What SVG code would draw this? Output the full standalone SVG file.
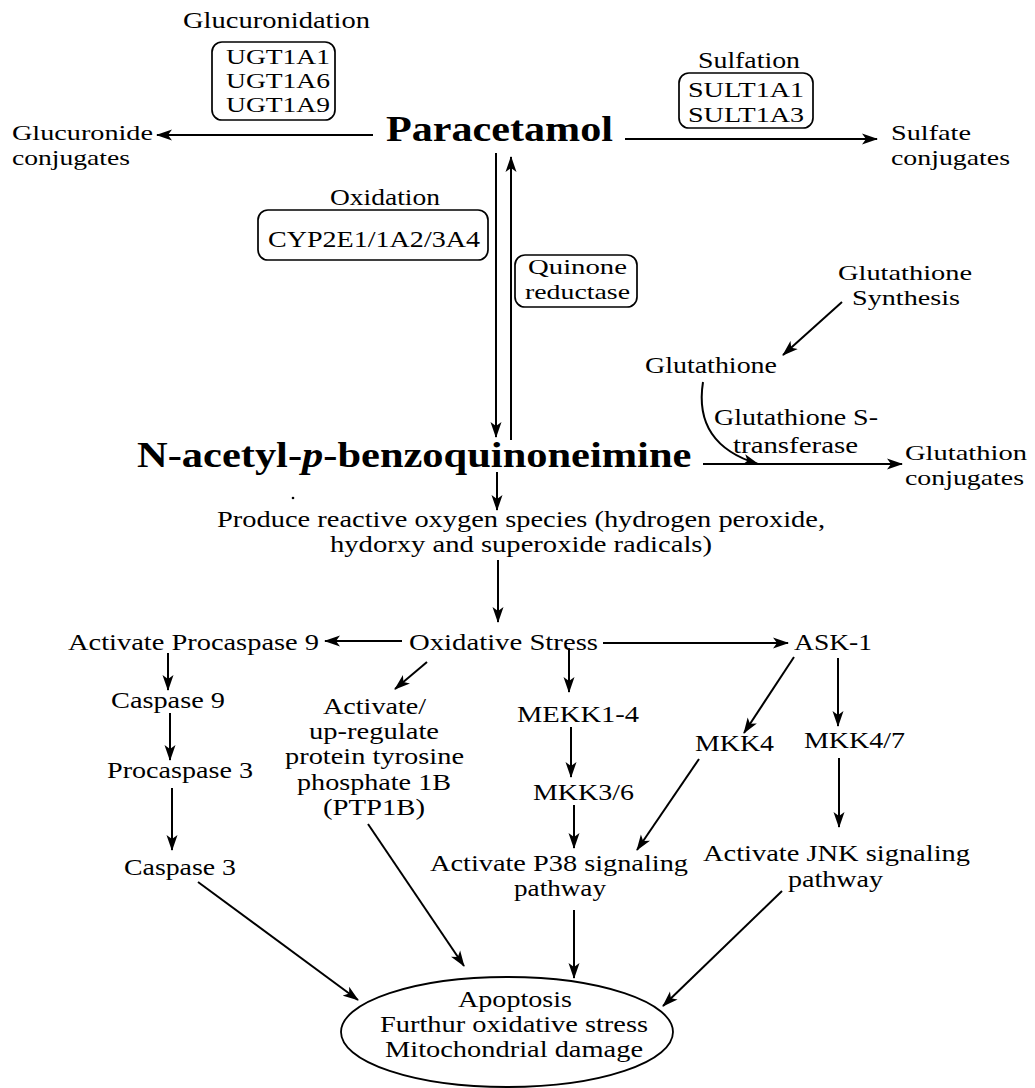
<svg xmlns="http://www.w3.org/2000/svg" width="1035" height="1088" viewBox="0 0 1035 1088">
<defs>
<style>
text{font-family:"Liberation Serif","Times New Roman",Times,serif;font-size:24px;fill:#000}
.s{font-size:22px}
.b{font-weight:bold;font-size:36px}
.box{fill:none;stroke:#000;stroke-width:1.7}
.c line,.c path{stroke:#000;stroke-width:2;fill:none}
.a{marker-end:url(#ah)}
</style>
<marker id="ah" markerUnits="userSpaceOnUse" markerWidth="17" markerHeight="12" refX="15" refY="5.5" orient="auto" viewBox="0 0 17 11">
<path d="M0,0 L16,5.5 L0,11 L4,5.5 Z" fill="#000"/>
</marker>
</defs>
<rect width="1035" height="1088" fill="#fff"/>

<g id="connectors" class="c">
<line class="a" x1="373" y1="135" x2="157" y2="135"/>
<line class="a" x1="625" y1="139" x2="877" y2="139"/>
<line class="a" x1="496" y1="153" x2="496" y2="437"/>
<line class="a" x1="511" y1="440" x2="511" y2="157"/>
<line class="a" x1="842" y1="302" x2="783" y2="355"/>
<path class="a" d="M703,382 C697,420 712,450 758,464"/>
<line class="a" x1="703" y1="464" x2="902" y2="464"/>
<line class="a" x1="497" y1="472" x2="497" y2="510"/>
<line class="a" x1="498" y1="560" x2="498" y2="622"/>
<line class="a" x1="402" y1="641" x2="325" y2="641"/>
<line class="a" x1="603" y1="643" x2="788" y2="643"/>
<line class="a" x1="427" y1="662" x2="395" y2="689"/>
<line class="a" x1="569" y1="648" x2="569" y2="692"/>
<line class="a" x1="168" y1="653" x2="168" y2="690"/>
<line class="a" x1="170" y1="713" x2="170" y2="760"/>
<line class="a" x1="172" y1="788" x2="172" y2="850"/>
<line class="a" x1="571" y1="727" x2="571" y2="777"/>
<line class="a" x1="574" y1="805" x2="574" y2="848"/>
<line class="a" x1="794" y1="657" x2="744" y2="733"/>
<line class="a" x1="838" y1="658" x2="838" y2="726"/>
<line class="a" x1="699" y1="759" x2="637" y2="850"/>
<line class="a" x1="839" y1="758" x2="839" y2="827"/>
<line class="a" x1="198" y1="882" x2="358" y2="1000"/>
<line class="a" x1="368" y1="824" x2="464" y2="966"/>
<line class="a" x1="574" y1="910" x2="574" y2="978"/>
<line class="a" x1="782" y1="891" x2="663" y2="1006"/>
</g>

<g id="glucuronidation">
<text x="183" y="28" textLength="187" lengthAdjust="spacingAndGlyphs">Glucuronidation</text>
<rect class="box" x="212" y="42" width="123" height="78" rx="10"/>
<text class="s" x="226" y="64" textLength="104" lengthAdjust="spacingAndGlyphs">UGT1A1</text>
<text class="s" x="226" y="88" textLength="104" lengthAdjust="spacingAndGlyphs">UGT1A6</text>
<text class="s" x="226" y="112" textLength="104" lengthAdjust="spacingAndGlyphs">UGT1A9</text>
</g>
<g id="glucuronide">
<text class="s" x="12" y="140" textLength="141" lengthAdjust="spacingAndGlyphs">Glucuronide</text>
<text class="s" x="12" y="165" textLength="118" lengthAdjust="spacingAndGlyphs">conjugates</text>
</g>
<g id="paracetamol">
<text class="b" x="386" y="141" textLength="227" lengthAdjust="spacingAndGlyphs">Paracetamol</text>
</g>
<g id="sulfation">
<text x="698" y="68" textLength="102" lengthAdjust="spacingAndGlyphs">Sulfation</text>
<rect class="box" x="679" y="73" width="134" height="55" rx="10"/>
<text class="s" x="688" y="97" textLength="116" lengthAdjust="spacingAndGlyphs">SULT1A1</text>
<text class="s" x="688" y="122" textLength="116" lengthAdjust="spacingAndGlyphs">SULT1A3</text>
</g>
<g id="sulfate">
<text class="s" x="891" y="140" textLength="80" lengthAdjust="spacingAndGlyphs">Sulfate</text>
<text class="s" x="891" y="165" textLength="119" lengthAdjust="spacingAndGlyphs">conjugates</text>
</g>
<g id="oxidation">
<text x="330" y="205" textLength="110" lengthAdjust="spacingAndGlyphs">Oxidation</text>
<rect class="box" x="258" y="210" width="230" height="50" rx="10"/>
<text x="268" y="247" textLength="212" lengthAdjust="spacingAndGlyphs">CYP2E1/1A2/3A4</text>
</g>
<g id="quinone">
<rect class="box" x="515" y="255" width="122" height="52" rx="10"/>
<text class="s" x="528" y="274" textLength="99" lengthAdjust="spacingAndGlyphs">Quinone</text>
<text class="s" x="525" y="299" textLength="105" lengthAdjust="spacingAndGlyphs">reductase</text>
</g>
<g id="gsynth">
<text class="s" x="838" y="280" textLength="134" lengthAdjust="spacingAndGlyphs">Glutathione</text>
<text class="s" x="852" y="305" textLength="108" lengthAdjust="spacingAndGlyphs">Synthesis</text>
</g>
<g id="glutathione">
<text x="645" y="373" textLength="132" lengthAdjust="spacingAndGlyphs">Glutathione</text>
</g>
<g id="gst">
<text x="714" y="425" textLength="164" lengthAdjust="spacingAndGlyphs">Glutathione S-</text>
<text x="733" y="453" textLength="125" lengthAdjust="spacingAndGlyphs">transferase</text>
</g>
<g id="napqi">
<text class="b" transform="matrix(1.18,0,0,1,137,467)" x="0" y="0">N-acetyl-<tspan font-style="italic">p</tspan>-benzoquinoneimine</text>
<circle cx="293" cy="498" r="1.3" fill="#000"/>
</g>
<g id="gconj">
<text class="s" x="905" y="460" textLength="122" lengthAdjust="spacingAndGlyphs">Glutathion</text>
<text class="s" x="905" y="485" textLength="119" lengthAdjust="spacingAndGlyphs">conjugates</text>
</g>
<g id="ros">
<text x="217" y="527" textLength="608" lengthAdjust="spacingAndGlyphs">Produce reactive oxygen species (hydrogen peroxide,</text>
<text x="330" y="552" textLength="382" lengthAdjust="spacingAndGlyphs">hydorxy and superoxide radicals)</text>
</g>
<g id="procaspase9"><text x="68" y="650" textLength="251" lengthAdjust="spacingAndGlyphs">Activate Procaspase 9</text></g>
<g id="oxstress"><text x="409" y="650" textLength="189" lengthAdjust="spacingAndGlyphs">Oxidative Stress</text></g>
<g id="ask1"><text x="794" y="650" textLength="78" lengthAdjust="spacingAndGlyphs">ASK-1</text></g>
<g id="caspase9"><text x="111" y="708" textLength="114" lengthAdjust="spacingAndGlyphs">Caspase 9</text></g>
<g id="procaspase3"><text x="107" y="778" textLength="146" lengthAdjust="spacingAndGlyphs">Procaspase 3</text></g>
<g id="caspase3"><text x="124" y="875" textLength="112" lengthAdjust="spacingAndGlyphs">Caspase 3</text></g>
<g id="ptp1b">
<text x="323" y="714" textLength="103" lengthAdjust="spacingAndGlyphs">Activate/</text>
<text x="309" y="739" textLength="130" lengthAdjust="spacingAndGlyphs">up-regulate</text>
<text x="285" y="764" textLength="179" lengthAdjust="spacingAndGlyphs">protein tyrosine</text>
<text x="297" y="790" textLength="154" lengthAdjust="spacingAndGlyphs">phosphate 1B</text>
<text x="323" y="815" textLength="102" lengthAdjust="spacingAndGlyphs">(PTP1B)</text>
</g>
<g id="mekk"><text x="517" y="722" textLength="122" lengthAdjust="spacingAndGlyphs">MEKK1-4</text></g>
<g id="mkk36"><text x="533" y="800" textLength="101" lengthAdjust="spacingAndGlyphs">MKK3/6</text></g>
<g id="mkk4"><text x="695" y="751" textLength="79" lengthAdjust="spacingAndGlyphs">MKK4</text></g>
<g id="mkk47"><text x="804" y="748" textLength="101" lengthAdjust="spacingAndGlyphs">MKK4/7</text></g>
<g id="p38">
<text x="430" y="871" textLength="258" lengthAdjust="spacingAndGlyphs">Activate P38 signaling</text>
<text x="514" y="896" textLength="92" lengthAdjust="spacingAndGlyphs">pathway</text>
</g>
<g id="jnk">
<text x="703" y="861" textLength="267" lengthAdjust="spacingAndGlyphs">Activate JNK signaling</text>
<text x="788" y="887" textLength="95" lengthAdjust="spacingAndGlyphs">pathway</text>
</g>
<g id="outcome">
<ellipse cx="507" cy="1032" rx="166" ry="55" fill="none" stroke="#000" stroke-width="1.8"/>
<text x="458" y="1007" textLength="114" lengthAdjust="spacingAndGlyphs">Apoptosis</text>
<text x="380" y="1032" textLength="268" lengthAdjust="spacingAndGlyphs">Furthur oxidative stress</text>
<text x="385" y="1057" textLength="258" lengthAdjust="spacingAndGlyphs">Mitochondrial damage</text>
</g>
</svg>
